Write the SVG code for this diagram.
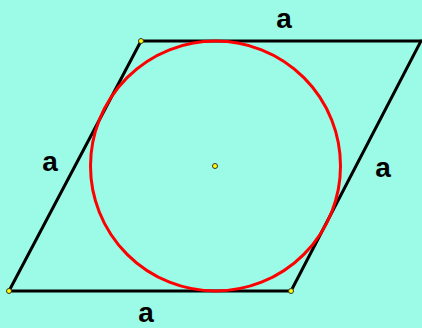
<svg xmlns="http://www.w3.org/2000/svg" width="422" height="328" viewBox="0 0 422 328">
<style>
.edge{fill:none;stroke:#000;stroke-width:3;stroke-linecap:round}
.circ{fill:none;stroke:#f00;stroke-width:3}
.pt{fill:#ff0;stroke:#333;stroke-width:1}
.lbl{font-family:"Liberation Sans",Arial,sans-serif;font-weight:bold;font-size:28px;fill:#000;text-anchor:middle}
</style>
<rect width="422" height="328" fill="#9bfbe6"/>
<g id="connectors">
<path class="edge" d="M141,41 L421,41"/>
<path class="edge" d="M421,41 L291,291"/>
<path class="edge" d="M291,291 L9,291"/>
<path class="edge" d="M9,291 L141,41"/>
</g>
<g id="incircle"><circle class="circ" cx="215.5" cy="166" r="125"/></g>
<g id="center"><circle class="pt" cx="215" cy="166" r="2.5"/></g>
<g id="A"><circle class="pt" cx="141" cy="41" r="2.5"/></g>
<g id="B"><circle class="pt" cx="291" cy="291" r="2.5"/></g>
<g id="C"><circle class="pt" cx="9" cy="291" r="2.5"/></g>
<g id="labels">
<text class="lbl" x="284" y="28">a</text>
<text class="lbl" x="50" y="171">a</text>
<text class="lbl" x="383" y="177">a</text>
<text class="lbl" x="146" y="322">a</text>
</g>
</svg>
